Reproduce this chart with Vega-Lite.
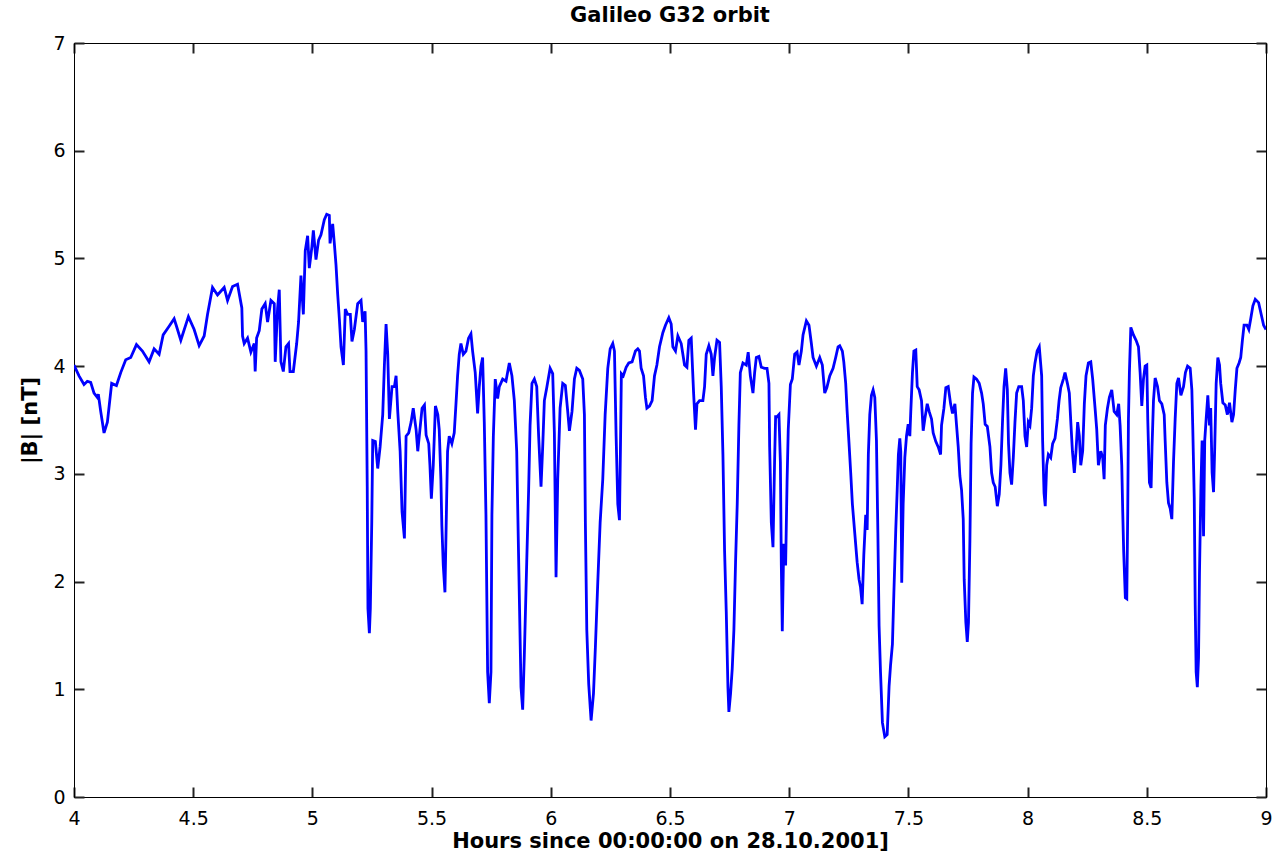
{
"$schema": "https://vega.github.io/schema/vega-lite/v6.json",
"width": 1192, "height": 754,
"autosize": {"type": "none"},
"padding": {"left": 74, "top": 43, "right": 8, "bottom": 63},
"background": "white",
"config": {
 "view": {"stroke": "black", "strokeWidth": 1},
 "axis": {"domainColor": "black", "grid": false, "labelFont": "DejaVu Sans", "labelFontSize": 19, "labelColor": "black", "titleFont": "DejaVu Sans", "titleFontSize": 21, "titleFontWeight": "bold", "titleColor": "black", "labelFlush": false, "labelOverlap": false}
},
"title": {"text": "Galileo G32 orbit", "font": "DejaVu Sans", "fontSize": 21, "fontWeight": "bold", "color": "black", "offset": 8, "anchor": "middle"},
"data": {"values": [
{"h":4.000,"B":4.01},{"h":4.021,"B":3.91},{"h":4.042,"B":3.83},{"h":4.056,"B":3.86},{"h":4.070,"B":3.85},{"h":4.084,"B":3.75},{"h":4.098,"B":3.71},{"h":4.102,"B":3.74},{"h":4.112,"B":3.58},{"h":4.126,"B":3.38},{"h":4.140,"B":3.48},{"h":4.158,"B":3.84},{"h":4.178,"B":3.82},{"h":4.196,"B":3.94},{"h":4.217,"B":4.06},{"h":4.238,"B":4.08},{"h":4.262,"B":4.20},{"h":4.287,"B":4.14},{"h":4.315,"B":4.04},{"h":4.336,"B":4.16},{"h":4.357,"B":4.11},{"h":4.374,"B":4.29},{"h":4.399,"B":4.37},{"h":4.420,"B":4.44},{"h":4.430,"B":4.37},{"h":4.448,"B":4.24},{"h":4.480,"B":4.46},{"h":4.504,"B":4.34},{"h":4.525,"B":4.19},{"h":4.546,"B":4.28},{"h":4.560,"B":4.48},{"h":4.581,"B":4.73},{"h":4.602,"B":4.66},{"h":4.630,"B":4.73},{"h":4.644,"B":4.61},{"h":4.665,"B":4.74},{"h":4.686,"B":4.76},
{"h":4.704,"B":4.54},{"h":4.707,"B":4.28},{"h":4.714,"B":4.21},{"h":4.728,"B":4.26},{"h":4.742,"B":4.13},{"h":4.756,"B":4.21},{"h":4.760,"B":3.95},{"h":4.766,"B":4.26},{"h":4.777,"B":4.33},{"h":4.788,"B":4.53},{"h":4.802,"B":4.58},{"h":4.812,"B":4.41},{"h":4.826,"B":4.61},{"h":4.840,"B":4.58},{"h":4.844,"B":4.04},{"h":4.854,"B":4.54},{"h":4.861,"B":4.71},{"h":4.868,"B":4.04},{"h":4.878,"B":3.95},{"h":4.889,"B":4.18},{"h":4.900,"B":4.21},{"h":4.906,"B":3.95},{"h":4.920,"B":3.95},{"h":4.934,"B":4.21},{"h":4.942,"B":4.41},{"h":4.952,"B":4.84},{"h":4.962,"B":4.48},{"h":4.970,"B":5.07},{"h":4.980,"B":5.21},{"h":4.987,"B":4.91},{"h":4.998,"B":5.11},{"h":5.004,"B":5.26},{"h":5.015,"B":4.99},{"h":5.026,"B":5.17},{"h":5.036,"B":5.22},{"h":5.050,"B":5.36},{"h":5.060,"B":5.41},{"h":5.071,"B":5.40},{"h":5.074,"B":5.14},{"h":5.085,"B":5.32},{"h":5.092,"B":5.14},{"h":5.099,"B":4.94},{"h":5.106,"B":4.67},{"h":5.113,"B":4.44},{"h":5.120,"B":4.18},{"h":5.130,"B":4.01},{"h":5.138,"B":4.53},{"h":5.148,"B":4.48},{"h":5.159,"B":4.48},{"h":5.166,"B":4.23},{"h":5.176,"B":4.34},{"h":5.190,"B":4.58},{"h":5.204,"B":4.61},{"h":5.211,"B":4.41},{"h":5.221,"B":4.51},{"h":5.225,"B":4.14},{"h":5.230,"B":2.88},{"h":5.233,"B":1.75},{"h":5.239,"B":1.52},{"h":5.243,"B":1.75},{"h":5.249,"B":2.55},{"h":5.253,"B":3.31},{"h":5.264,"B":3.30},{"h":5.274,"B":3.05},{"h":5.284,"B":3.25},{"h":5.295,"B":3.55},{"h":5.302,"B":4.01},{"h":5.309,"B":4.39},{"h":5.316,"B":4.11},{"h":5.323,"B":3.51},{"h":5.334,"B":3.81},{"h":5.344,"B":3.81},{"h":5.351,"B":3.91},{"h":5.358,"B":3.58},{"h":5.368,"B":3.21},{"h":5.376,"B":2.65},{"h":5.386,"B":2.40},{"h":5.393,"B":3.35},{"h":5.404,"B":3.38},{"h":5.414,"B":3.48},{"h":5.423,"B":3.61},{"h":5.435,"B":3.41},{"h":5.442,"B":3.21},{"h":5.451,"B":3.41},{"h":5.460,"B":3.61},{"h":5.470,"B":3.64},{"h":5.477,"B":3.36},{"h":5.488,"B":3.28},{"h":5.493,"B":3.08},{"h":5.499,"B":2.77},{"h":5.507,"B":3.08},{"h":5.516,"B":3.63},{"h":5.526,"B":3.55},
{"h":5.532,"B":3.41},{"h":5.539,"B":2.95},{"h":5.543,"B":2.52},{"h":5.549,"B":2.15},{"h":5.556,"B":1.90},{"h":5.563,"B":2.75},{"h":5.567,"B":3.21},{"h":5.574,"B":3.35},{"h":5.585,"B":3.28},{"h":5.595,"B":3.38},{"h":5.602,"B":3.64},{"h":5.609,"B":3.91},{"h":5.616,"B":4.11},{"h":5.623,"B":4.21},{"h":5.633,"B":4.11},{"h":5.644,"B":4.14},{"h":5.655,"B":4.26},{"h":5.665,"B":4.30},{"h":5.672,"B":4.14},{"h":5.683,"B":3.94},{"h":5.693,"B":3.56},{"h":5.700,"B":3.81},{"h":5.707,"B":4.00},{"h":5.714,"B":4.08},{"h":5.721,"B":3.48},{"h":5.728,"B":2.62},{"h":5.735,"B":1.16},{"h":5.742,"B":0.87},{"h":5.749,"B":1.16},{"h":5.753,"B":2.62},{"h":5.759,"B":3.35},{"h":5.767,"B":3.88},{"h":5.777,"B":3.70},{"h":5.784,"B":3.81},{"h":5.798,"B":3.88},{"h":5.812,"B":3.86},{"h":5.826,"B":4.03},{"h":5.837,"B":3.91},{"h":5.847,"B":3.68},{"h":5.857,"B":3.21},{"h":5.865,"B":2.22},{"h":5.875,"B":1.02},{"h":5.882,"B":0.81},{"h":5.889,"B":1.32},{"h":5.899,"B":2.18},{"h":5.907,"B":2.85},{"h":5.913,"B":3.45},{"h":5.921,"B":3.84},{"h":5.931,"B":3.88},{"h":5.941,"B":3.81},{"h":5.949,"B":3.35},{"h":5.959,"B":2.88},{"h":5.966,"B":3.25},{"h":5.973,"B":3.68},{"h":5.983,"B":3.80},{"h":5.997,"B":3.98},{"h":6.008,"B":3.93},{"h":6.015,"B":3.38},{"h":6.022,"B":2.04},{"h":6.029,"B":2.95},{"h":6.039,"B":3.61},{"h":6.050,"B":3.84},{"h":6.061,"B":3.82},{"h":6.071,"B":3.58},{"h":6.078,"B":3.40},{"h":6.089,"B":3.58},{"h":6.099,"B":3.88},{"h":6.109,"B":3.98},{"h":6.120,"B":3.96},{"h":6.134,"B":3.88},{"h":6.141,"B":3.55},{"h":6.145,"B":2.55},{"h":6.151,"B":1.55},{"h":6.159,"B":1.05},{"h":6.169,"B":0.71},{"h":6.179,"B":0.96},{"h":6.187,"B":1.39},{"h":6.197,"B":1.99},{"h":6.207,"B":2.55},{"h":6.218,"B":2.95},{"h":6.228,"B":3.55},{"h":6.239,"B":3.98},{"h":6.249,"B":4.16},{"h":6.260,"B":4.21},{"h":6.267,"B":4.14},{"h":6.274,"B":3.35},{"h":6.281,"B":2.72},{"h":6.288,"B":2.57},{"h":6.292,"B":3.21},{"h":6.296,"B":3.93},{"h":6.304,"B":3.91},{"h":6.316,"B":3.99},{"h":6.327,"B":4.03},{"h":6.341,"B":4.04},{"h":6.355,"B":4.14},{"h":6.365,"B":4.16},
{"h":6.372,"B":4.14},{"h":6.379,"B":3.98},{"h":6.389,"B":3.91},{"h":6.397,"B":3.71},{"h":6.403,"B":3.61},{"h":6.414,"B":3.63},{"h":6.425,"B":3.68},{"h":6.435,"B":3.91},{"h":6.445,"B":4.01},{"h":6.456,"B":4.18},{"h":6.470,"B":4.31},{"h":6.481,"B":4.38},{"h":6.495,"B":4.45},{"h":6.505,"B":4.39},{"h":6.512,"B":4.18},{"h":6.523,"B":4.14},{"h":6.533,"B":4.28},{"h":6.547,"B":4.21},{"h":6.561,"B":4.01},{"h":6.571,"B":3.99},{"h":6.579,"B":4.24},{"h":6.589,"B":4.26},{"h":6.599,"B":3.75},{"h":6.607,"B":3.41},{"h":6.613,"B":3.65},{"h":6.624,"B":3.68},{"h":6.638,"B":3.68},{"h":6.645,"B":3.81},{"h":6.652,"B":4.11},{"h":6.663,"B":4.19},{"h":6.673,"B":4.11},{"h":6.680,"B":3.91},{"h":6.687,"B":4.08},{"h":6.697,"B":4.24},{"h":6.708,"B":4.22},{"h":6.715,"B":3.81},{"h":6.722,"B":3.18},{"h":6.729,"B":2.28},{"h":6.736,"B":1.72},{"h":6.743,"B":1.02},{"h":6.747,"B":0.79},{"h":6.754,"B":0.96},{"h":6.761,"B":1.19},{"h":6.768,"B":1.55},{"h":6.775,"B":2.18},{"h":6.782,"B":2.72},{"h":6.789,"B":3.45},{"h":6.795,"B":3.94},{"h":6.806,"B":4.03},{"h":6.820,"B":4.01},{"h":6.828,"B":4.13},{"h":6.837,"B":3.91},{"h":6.848,"B":3.75},{"h":6.855,"B":3.94},{"h":6.862,"B":4.08},{"h":6.873,"B":4.09},{"h":6.883,"B":3.99},{"h":6.897,"B":3.98},{"h":6.907,"B":3.98},{"h":6.915,"B":3.84},{"h":6.918,"B":3.25},{"h":6.925,"B":2.55},{"h":6.932,"B":2.32},{"h":6.939,"B":3.15},{"h":6.943,"B":3.53},{"h":6.949,"B":3.53},{"h":6.957,"B":3.55},{"h":6.963,"B":3.11},{"h":6.967,"B":2.15},{"h":6.971,"B":1.54},{"h":6.977,"B":2.35},{"h":6.985,"B":2.15},{"h":6.991,"B":2.92},{"h":6.996,"B":3.41},{"h":7.005,"B":3.83},{"h":7.013,"B":3.88},{"h":7.023,"B":4.11},{"h":7.033,"B":4.13},{"h":7.041,"B":4.01},{"h":7.051,"B":4.14},{"h":7.058,"B":4.29},{"h":7.072,"B":4.42},{"h":7.083,"B":4.38},{"h":7.093,"B":4.21},{"h":7.100,"B":4.08},{"h":7.114,"B":4.00},{"h":7.128,"B":4.08},{"h":7.139,"B":4.01},{"h":7.149,"B":3.75},{"h":7.158,"B":3.80},{"h":7.170,"B":3.91},{"h":7.184,"B":3.98},{"h":7.195,"B":4.08},{"h":7.205,"B":4.18},
{"h":7.212,"B":4.19},{"h":7.223,"B":4.14},{"h":7.229,"B":4.04},{"h":7.237,"B":3.84},{"h":7.243,"B":3.58},{"h":7.251,"B":3.28},{"h":7.258,"B":3.01},{"h":7.265,"B":2.72},{"h":7.275,"B":2.45},{"h":7.285,"B":2.18},{"h":7.293,"B":2.02},{"h":7.299,"B":1.95},{"h":7.306,"B":1.79},{"h":7.313,"B":2.25},{"h":7.321,"B":2.62},{"h":7.327,"B":2.48},{"h":7.332,"B":3.18},{"h":7.338,"B":3.55},{"h":7.345,"B":3.73},{"h":7.352,"B":3.78},{"h":7.359,"B":3.71},{"h":7.366,"B":3.31},{"h":7.372,"B":2.45},{"h":7.377,"B":1.59},{"h":7.383,"B":1.16},{"h":7.391,"B":0.69},{"h":7.401,"B":0.56},{"h":7.411,"B":0.58},{"h":7.419,"B":1.03},{"h":7.425,"B":1.22},{"h":7.433,"B":1.42},{"h":7.439,"B":1.89},{"h":7.447,"B":2.48},{"h":7.453,"B":2.85},{"h":7.458,"B":3.18},{"h":7.464,"B":3.33},{"h":7.468,"B":3.21},{"h":7.472,"B":1.99},{"h":7.478,"B":2.72},{"h":7.485,"B":3.15},{"h":7.492,"B":3.35},{"h":7.499,"B":3.46},{"h":7.506,"B":3.35},{"h":7.510,"B":3.58},{"h":7.517,"B":3.94},{"h":7.523,"B":4.14},{"h":7.531,"B":4.15},{"h":7.537,"B":3.81},{"h":7.545,"B":3.78},{"h":7.555,"B":3.68},{"h":7.562,"B":3.40},{"h":7.569,"B":3.51},{"h":7.579,"B":3.65},{"h":7.587,"B":3.58},{"h":7.597,"B":3.51},{"h":7.604,"B":3.38},{"h":7.615,"B":3.30},{"h":7.625,"B":3.25},{"h":7.635,"B":3.18},{"h":7.639,"B":3.45},{"h":7.649,"B":3.61},{"h":7.657,"B":3.80},{"h":7.667,"B":3.81},{"h":7.677,"B":3.65},{"h":7.685,"B":3.56},{"h":7.695,"B":3.65},{"h":7.702,"B":3.45},{"h":7.709,"B":3.25},{"h":7.716,"B":2.98},{"h":7.723,"B":2.85},{"h":7.730,"B":2.58},{"h":7.734,"B":2.02},{"h":7.741,"B":1.62},{"h":7.747,"B":1.44},{"h":7.752,"B":1.62},{"h":7.758,"B":2.38},{"h":7.763,"B":3.28},{"h":7.769,"B":3.75},{"h":7.775,"B":3.90},{"h":7.786,"B":3.88},{"h":7.797,"B":3.84},{"h":7.807,"B":3.75},{"h":7.814,"B":3.65},{"h":7.822,"B":3.46},{"h":7.831,"B":3.44},{"h":7.842,"B":3.25},{"h":7.849,"B":3.01},{"h":7.856,"B":2.92},{"h":7.864,"B":2.88},{"h":7.873,"B":2.70},{"h":7.881,"B":2.81},{"h":7.888,"B":3.08},{"h":7.895,"B":3.50},{"h":7.901,"B":3.81},{"h":7.908,"B":3.98},{"h":7.915,"B":3.78},{"h":7.920,"B":3.28},{"h":7.926,"B":3.01},{"h":7.933,"B":2.90},{"h":7.940,"B":3.15},{"h":7.947,"B":3.48},{"h":7.954,"B":3.75},{"h":7.963,"B":3.81},{"h":7.975,"B":3.81},{"h":7.982,"B":3.68},{"h":7.989,"B":3.35},{"h":7.996,"B":3.25},{"h":8.003,"B":3.48},{"h":8.010,"B":3.45},{"h":8.017,"B":3.61},{"h":8.024,"B":3.91},{"h":8.031,"B":4.03},{"h":8.040,"B":4.14},{"h":8.049,"B":4.18},
{"h":8.059,"B":3.91},{"h":8.063,"B":3.31},{"h":8.069,"B":2.82},{"h":8.074,"B":2.70},{"h":8.080,"B":3.08},{"h":8.087,"B":3.18},{"h":8.097,"B":3.15},{"h":8.105,"B":3.28},{"h":8.115,"B":3.33},{"h":8.125,"B":3.51},{"h":8.132,"B":3.68},{"h":8.139,"B":3.80},{"h":8.150,"B":3.88},{"h":8.157,"B":3.94},{"h":8.167,"B":3.84},{"h":8.175,"B":3.75},{"h":8.182,"B":3.45},{"h":8.188,"B":3.21},{"h":8.196,"B":3.01},{"h":8.203,"B":3.21},{"h":8.210,"B":3.48},{"h":8.217,"B":3.35},{"h":8.223,"B":3.08},{"h":8.231,"B":3.21},{"h":8.238,"B":3.65},{"h":8.245,"B":3.91},{"h":8.255,"B":4.03},{"h":8.265,"B":4.04},{"h":8.273,"B":3.88},{"h":8.283,"B":3.61},{"h":8.290,"B":3.41},{"h":8.297,"B":3.08},{"h":8.307,"B":3.21},{"h":8.315,"B":3.15},{"h":8.321,"B":2.95},{"h":8.326,"B":3.45},{"h":8.335,"B":3.61},{"h":8.343,"B":3.71},{"h":8.353,"B":3.78},{"h":8.363,"B":3.58},{"h":8.374,"B":3.55},{"h":8.382,"B":3.65},{"h":8.388,"B":3.45},{"h":8.395,"B":3.08},{"h":8.399,"B":2.65},{"h":8.403,"B":2.28},{"h":8.410,"B":1.85},{"h":8.416,"B":1.84},{"h":8.420,"B":2.65},{"h":8.423,"B":3.51},{"h":8.427,"B":3.94},{"h":8.433,"B":4.36},{"h":8.444,"B":4.29},{"h":8.455,"B":4.24},{"h":8.465,"B":4.18},{"h":8.472,"B":3.94},{"h":8.479,"B":3.63},{"h":8.486,"B":3.88},{"h":8.493,"B":4.00},{"h":8.500,"B":4.01},{"h":8.504,"B":3.51},{"h":8.511,"B":2.92},{"h":8.518,"B":2.87},{"h":8.522,"B":3.25},{"h":8.528,"B":3.68},{"h":8.535,"B":3.89},{"h":8.545,"B":3.81},{"h":8.553,"B":3.68},{"h":8.563,"B":3.65},{"h":8.573,"B":3.55},{"h":8.577,"B":3.31},{"h":8.584,"B":2.92},{"h":8.591,"B":2.73},{"h":8.598,"B":2.68},{"h":8.605,"B":2.58},{"h":8.612,"B":3.11},{"h":8.619,"B":3.51},{"h":8.626,"B":3.84},{"h":8.633,"B":3.89},{"h":8.643,"B":3.73},{"h":8.654,"B":3.81},{"h":8.662,"B":3.94},{"h":8.671,"B":4.00},{"h":8.682,"B":3.98},{"h":8.689,"B":3.78},{"h":8.693,"B":3.41},{"h":8.699,"B":2.78},{"h":8.703,"B":1.79},{"h":8.707,"B":1.16},{"h":8.712,"B":1.02},{"h":8.717,"B":1.29},{"h":8.721,"B":2.08},{"h":8.727,"B":2.88},{"h":8.732,"B":3.31},{"h":8.738,"B":2.42},{"h":8.743,"B":3.31},{"h":8.749,"B":3.51},{"h":8.756,"B":3.73},{"h":8.763,"B":3.45},{"h":8.768,"B":3.61},{"h":8.774,"B":3.01},{"h":8.780,"B":2.83},{"h":8.785,"B":3.25},{"h":8.791,"B":3.84},{"h":8.798,"B":4.08},{"h":8.805,"B":4.01},{"h":8.810,"B":3.84},{"h":8.819,"B":3.66},{"h":8.829,"B":3.64},{"h":8.838,"B":3.55},{"h":8.847,"B":3.66},{"h":8.857,"B":3.48},{"h":8.864,"B":3.55},{"h":8.871,"B":3.78},{"h":8.878,"B":3.98},{"h":8.887,"B":4.03},{"h":8.894,"B":4.08},{"h":8.901,"B":4.24},{"h":8.908,"B":4.38},{"h":8.920,"B":4.38},{"h":8.928,"B":4.34},{"h":8.936,"B":4.44},{"h":8.945,"B":4.56},{"h":8.955,"B":4.62},{"h":8.969,"B":4.59},{"h":8.980,"B":4.48},{"h":8.990,"B":4.38},{"h":9.000,"B":4.34}
]},
"layer": [
 {
  "mark": {"type": "line", "color": "#0000FF", "strokeWidth": 2.8, "clip": true},
  "encoding": {
   "x": {"field": "h", "type": "quantitative", "scale": {"domain": [4, 9], "nice": false, "zero": false},
     "axis": {"orient": "bottom", "values": [4, 4.5, 5, 5.5, 6, 6.5, 7, 7.5, 8, 8.5, 9], "format": "~g", "tickSize": -10, "tickWidth": 2, "tickColor": "#222222", "labelPadding": 22, "title": "Hours since 00:00:00 on 28.10.2001]", "titleX": 596, "titleY": 50, "titleBaseline": "alphabetic", "titleAlign": "center"}},
   "y": {"field": "B", "type": "quantitative", "scale": {"domain": [0, 7], "nice": false, "zero": false},
     "axis": {"orient": "left", "values": [0, 1, 2, 3, 4, 5, 6, 7], "format": "~g", "tickSize": -10, "tickWidth": 2, "tickColor": "#222222", "labelPadding": 19, "title": "|B| [nT]", "titleX": -44, "titleY": 377, "titleAngle": 270, "titleBaseline": "middle", "titleAlign": "center"}}
  }
 },
 {
  "mark": {"type": "line", "strokeOpacity": 0},
  "encoding": {
   "x": {"field": "h", "type": "quantitative", "axis": {"orient": "top", "values": [4, 4.5, 5, 5.5, 6, 6.5, 7, 7.5, 8, 8.5, 9], "tickSize": -10, "tickWidth": 2, "tickColor": "#222222", "labels": false, "title": null}},
   "y": {"field": "B", "type": "quantitative", "axis": {"orient": "right", "values": [0, 1, 2, 3, 4, 5, 6, 7], "tickSize": -10, "tickWidth": 2, "tickColor": "#222222", "labels": false, "title": null}}
  }
 }
],
"resolve": {"axis": {"x": "independent", "y": "independent"}}
}
